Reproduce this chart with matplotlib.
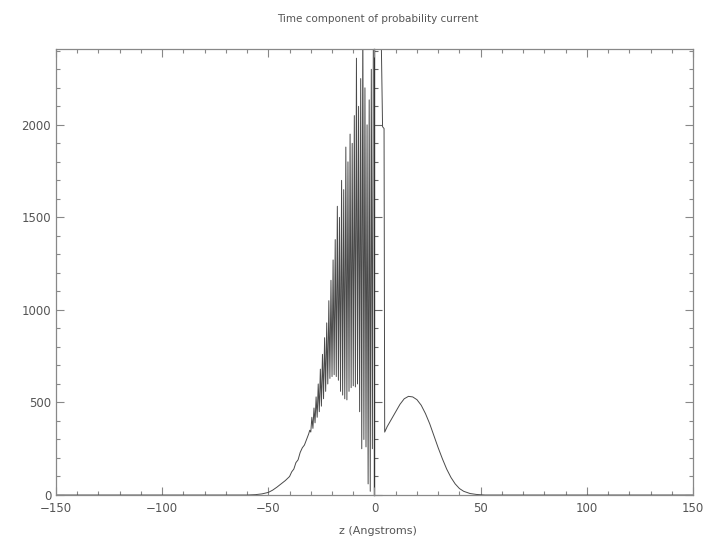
import matplotlib
matplotlib.use("Agg")
import matplotlib.pyplot as plt
from matplotlib.ticker import MultipleLocator

# z (Angstroms) and time component of probability current
z_left = [-150, -100, -70, -60, -56, -53, -50, -48, -46, -44, -42, -40, -39, -38,
          -37, -36, -35, -34, -33, -32, -31, -30.5]
j_left = [0, 0, 0, 0, 2, 6, 14, 26, 42, 60, 78, 100, 125, 140,
          175, 190, 230, 255, 270, 300, 330, 350]

z_osc = [-30.0, -29.5, -29.0, -28.5, -28.0, -27.5, -27.0, -26.5, -26.0, -25.5,
         -25.0, -24.5, -24.0, -23.5, -23.0, -22.5, -22.0, -21.5, -21.0, -20.5,
         -20.0, -19.5, -19.0, -18.5, -18.0, -17.5, -17.0, -16.5, -16.0, -15.5,
         -15.0, -14.5, -14.0, -13.5, -13.0, -12.5, -12.0, -11.5, -11.0, -10.5,
         -10.0, -9.5, -9.0, -8.5, -8.0, -7.5, -7.0, -6.5, -6.0, -5.5,
         -5.0, -4.5, -4.0, -3.5, -3.0, -2.5, -2.0, -1.5, -1.0, -0.5]
j_osc = [340, 420, 360, 470, 390, 530, 420, 600, 450, 680,
         480, 760, 520, 850, 560, 930, 600, 1050, 630, 1160,
         640, 1270, 650, 1380, 640, 1560, 620, 1500, 560, 1700,
         540, 1650, 520, 1880, 514, 1800, 560, 1950, 580, 1900,
         590, 2050, 584, 2360, 600, 2100, 450, 2250, 250, 2600,
         300, 2200, 260, 2000, 60, 2135, 20, 2300, 250, 2700]

z_right = [0.0, 1.0, 2.0, 3.0, 3.8, 4.5, 4.8, 6, 8, 10, 12, 14, 16, 18, 20, 22,
           24, 26, 28, 30, 32, 34, 36, 38, 40, 42, 45, 48, 52, 100, 150]
j_right = [2700, 2600, 2500, 2600, 1990, 1980, 340, 370, 410, 450, 490, 520, 533,
           530, 515, 485, 440, 385, 320, 255, 195, 140, 95, 60, 35, 20, 8, 3, 0, 0, 0]

x_ticks = [-150, -100, -50, 0, 50, 100, 150]
y_ticks = [0, 500, 1000, 1500, 2000]

z_all = z_left + z_osc + z_right
j_all = j_left + j_osc + j_right

fig = plt.figure(figsize=(7.08, 5.46), dpi=100)
ax = fig.add_axes([0.0791, 0.0934, 0.8997, 0.8169])

ax.plot(z_all, j_all, color="#4a4a4a", lw=0.7)

ax.set_xlim(-150, 150)
ax.set_ylim(0, 2410)
ax.set_xticks(x_ticks)
ax.set_yticks(y_ticks)
ax.xaxis.set_minor_locator(MultipleLocator(10))
ax.yaxis.set_minor_locator(MultipleLocator(100))
ax.tick_params(which="both", direction="in", top=True, right=True,
               colors="#888888", labelcolor="#555555", labelsize=8.5, width=0.8)
ax.tick_params(which="major", length=6)
ax.tick_params(which="minor", length=3)
ax.tick_params(axis="x", pad=5)
for s in ax.spines.values():
    s.set_color("#888888")
    s.set_linewidth(0.9)

# vertical axis drawn at z = 0
sec = ax.secondary_yaxis(0.5)
sec.set_yticks(y_ticks)
sec.yaxis.set_minor_locator(MultipleLocator(100))
sec.tick_params(which="both", direction="out", labelleft=False, labelright=False,
                colors="#666666", width=0.8)
sec.tick_params(which="major", length=6)
sec.tick_params(which="minor", length=3)
sec.set_yticklabels([])
for s in sec.spines.values():
    s.set_color("#333333")
    s.set_linewidth(1.0)

fig.text(0.534, 0.965, "Time component of probability current", ha="center", va="center",
         fontsize=7.5, color="#555555")
fig.text(0.534, 0.027, "z (Angstroms)", ha="center", va="center",
         fontsize=8, color="#555555")

fig.savefig("out.png", dpi=100)
